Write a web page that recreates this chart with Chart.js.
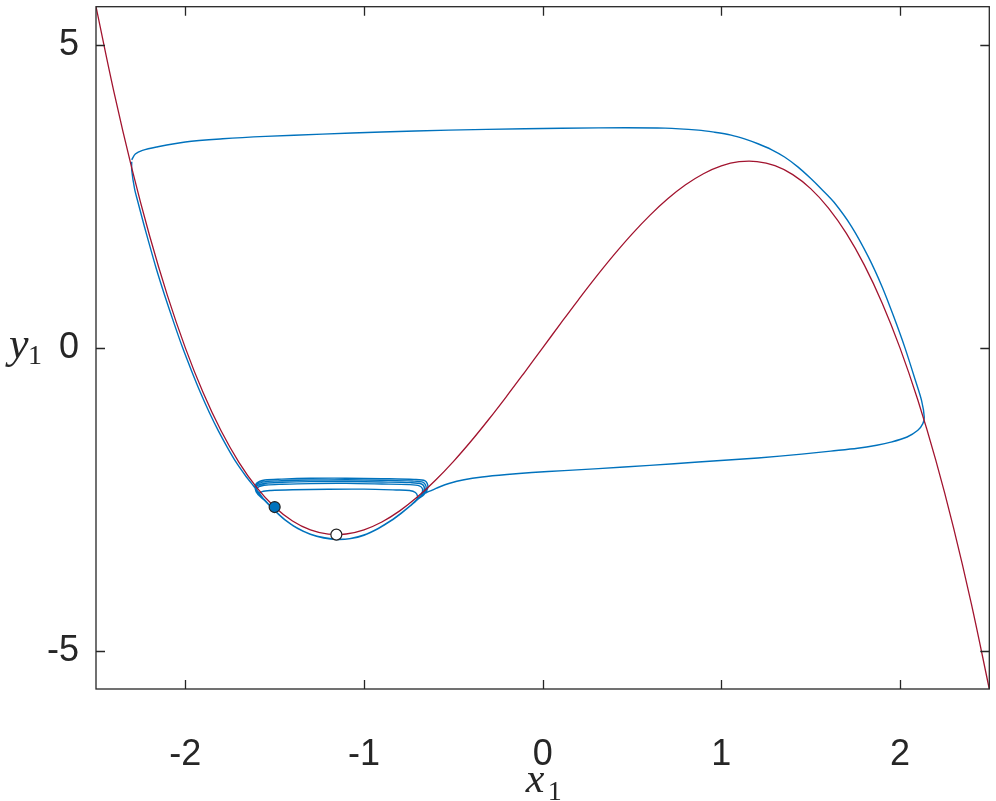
<!DOCTYPE html>
<html>
<head>
<meta charset="utf-8">
<script src="https://cdn.jsdelivr.net/npm/chart.js@4/dist/chart.umd.min.js"></script>
<style>
  html, body { margin: 0; padding: 0; background: #ffffff; }
  canvas { display: block; }
</style>
</head>
<body>
<canvas id="c" width="996" height="801"></canvas>
<script>
// ---------------- data ----------------
const xTicks = [-2, -1, 0, 1, 2];
const xTickLabels = ['-2', '-1', '0', '1', '2'];
const yTicks = [-5, 0, 5];
const yTickLabels = ['-5', '0', '5'];
const xLimits = [-2.5, 2.5];
const yLimits = [-5.625, 5.625];
const xAxisLabel = ['x', '1'];
const yAxisLabel = ['y', '1'];

// red curve (nullcline)
const nullclineX = [-2.5,-2.4,-2.3,-2.2,-2.1,-2.0,-1.9,-1.8,-1.7,-1.6,-1.5,-1.4,-1.3,-1.2,-1.1,-1.0,-0.9,-0.8,-0.7,-0.6,-0.5,-0.4,-0.3,-0.2,-0.1,0,
  0.1,0.2,0.3,0.4,0.5,0.6,0.7,0.8,0.9,1.0,1.1,1.2,1.3,1.4,1.5,1.6,1.7,1.8,1.9,2.0,2.1,2.2,2.3,2.4,2.5];
const nullclineY = [5.625,4.224,2.967,1.848,0.861,0,-0.741,-1.368,-1.887,-2.304,-2.625,-2.856,-3.003,-3.072,-3.069,-3.0,-2.871,-2.688,-2.457,-2.184,-1.875,-1.536,-1.173,-0.792,-0.399,0,
  0.399,0.792,1.173,1.536,1.875,2.184,2.457,2.688,2.871,3.0,3.069,3.072,3.003,2.856,2.625,2.304,1.887,1.368,0.741,0,-0.861,-1.848,-2.967,-4.224,-5.625];

// blue trajectory, in the order it is traced
const trajDescent = [[-2.300,3.07],[-2.300,2.93],[-2.284,2.62],[-2.265,2.40],[-2.240,2.12],[-2.215,1.85],[-2.165,1.33],[-2.115,0.86],[-2.065,0.42],
  [-2.015,0.00],[-1.965,-0.38],[-1.915,-0.74],[-1.865,-1.07],[-1.815,-1.37],[-1.765,-1.64],[-1.715,-1.89],[-1.665,-2.10],[-1.620,-2.27],[-1.590,-2.38]];
const lowerArc1 = [[-1.560,-2.50],[-1.500,-2.68],[-1.440,-2.84],[-1.370,-2.98],[-1.300,-3.07],[-1.220,-3.13],[-1.150,-3.155],[-1.080,-3.145],[-1.000,-3.085],[-0.920,-2.975],[-0.850,-2.850],[-0.790,-2.720],[-0.740,-2.600],[-0.705,-2.500]];
const loop1 = [[-0.700,-2.45],[-0.712,-2.385],[-0.745,-2.352],[-0.820,-2.343],[-1.000,-2.330],[-1.200,-2.331],[-1.400,-2.340],[-1.520,-2.352],[-1.570,-2.37],[-1.590,-2.42]];
const lowerArc2 = [[-1.562,-2.50],[-1.505,-2.67],[-1.445,-2.83],[-1.375,-2.97],[-1.300,-3.075],[-1.225,-3.135],[-1.150,-3.16],[-1.075,-3.145],[-1.000,-3.09],[-0.920,-2.98],[-0.850,-2.855],[-0.790,-2.725],[-0.740,-2.605],[-0.700,-2.50]];
const loop2 = [[-0.678,-2.42],[-0.672,-2.33],[-0.690,-2.275],[-0.750,-2.255],[-0.900,-2.245],[-1.100,-2.235],[-1.300,-2.238],[-1.460,-2.250],[-1.545,-2.262],[-1.588,-2.29],[-1.600,-2.35],[-1.588,-2.42]];
const lowerArc3 = [[-1.558,-2.50],[-1.502,-2.675],[-1.442,-2.835],[-1.372,-2.975],[-1.300,-3.072],[-1.222,-3.133],[-1.150,-3.158],[-1.078,-3.146],[-1.000,-3.088],[-0.920,-2.978],[-0.850,-2.852],[-0.790,-2.722],[-0.740,-2.602],[-0.702,-2.50]];
const loop3 = [[-0.672,-2.42],[-0.662,-2.31],[-0.678,-2.245],[-0.740,-2.223],[-0.900,-2.212],[-1.100,-2.203],[-1.300,-2.206],[-1.460,-2.218],[-1.550,-2.232],[-1.595,-2.27],[-1.605,-2.34],[-1.590,-2.42]];
const lowerArc4 = [[-1.560,-2.50],[-1.504,-2.672],[-1.444,-2.832],[-1.374,-2.972],[-1.300,-3.074],[-1.224,-3.134],[-1.150,-3.159],[-1.076,-3.146],[-1.000,-3.089],[-0.920,-2.979],[-0.850,-2.854],[-0.790,-2.724],[-0.740,-2.604],[-0.701,-2.50]];
const loop4 = [[-0.668,-2.42],[-0.652,-2.30],[-0.668,-2.218],[-0.730,-2.196],[-0.900,-2.184],[-1.100,-2.176],[-1.300,-2.179],[-1.460,-2.191],[-1.552,-2.205],[-1.598,-2.25],[-1.607,-2.33],[-1.592,-2.42]];
const lowerArc5 = [[-1.561,-2.50],[-1.503,-2.674],[-1.443,-2.834],[-1.373,-2.974],[-1.300,-3.073],[-1.223,-3.134],[-1.150,-3.157],[-1.077,-3.145],[-1.000,-3.087],[-0.920,-2.977],[-0.850,-2.853],[-0.790,-2.723],[-0.740,-2.603],[-0.702,-2.50]];
const loop5 = [[-0.664,-2.42],[-0.642,-2.29],[-0.658,-2.192],[-0.720,-2.169],[-0.900,-2.157],[-1.100,-2.149],[-1.300,-2.151],[-1.460,-2.164],[-1.555,-2.180],[-1.600,-2.23],[-1.609,-2.32],[-1.593,-2.42]];
const lowerArc6 = [[-1.559,-2.50],[-1.501,-2.678],[-1.441,-2.838],[-1.371,-2.978],[-1.300,-3.071],[-1.221,-3.131],[-1.150,-3.156],[-1.079,-3.145],[-1.000,-3.086],[-0.920,-2.976],[-0.850,-2.851],[-0.790,-2.721],[-0.740,-2.601],[-0.705,-2.50]];
const trajBottomJump = [[-0.680,-2.43],[-0.650,-2.385],[-0.618,-2.347],[-0.575,-2.29],[-0.525,-2.237],[-0.440,-2.175],[-0.339,-2.129],[-0.200,-2.088],[-0.060,-2.056],[0.120,-2.024],
  [0.3125,-1.991],[0.600,-1.937],[0.871,-1.883],[1.205,-1.815],[1.450,-1.752],[1.613,-1.702],[1.763,-1.655],[1.870,-1.605],[1.949,-1.555],[2.040,-1.470],[2.100,-1.360],[2.128,-1.250],[2.136,-1.145]];
const trajRightBranch = [[2.121,-0.871],[2.087,-0.543],[2.028,0.000],[1.967,0.500],[1.901,1.000],[1.823,1.500],[1.729,2.000],[1.631,2.400],[1.560,2.620],[1.498,2.800],[1.430,2.980],[1.354,3.147],[1.280,3.270],[1.205,3.365],[1.130,3.445],[1.055,3.508]];
const trajTopJump = [[0.960,3.556],[0.871,3.590],[0.685,3.623],[0.3125,3.627],[-0.100,3.612],[-0.525,3.590],[-0.900,3.558],[-1.233,3.524],[-1.550,3.487],[-1.791,3.447],[-2.000,3.395],[-2.161,3.311],[-2.240,3.255],[-2.280,3.195],[-2.300,3.10]];

// markers
const filledPoint = [-1.5, -2.625];
const openPoint = [-1.1547, -3.0792];

// ---------------- build ----------------
const toXY = a => a.map(p => ({x: p[0], y: p[1]}));
const trajectory = [].concat(trajDescent, lowerArc1, loop1, lowerArc2, loop2, lowerArc3, loop3, lowerArc4, loop4,
  lowerArc5, loop5, lowerArc6, trajBottomJump, trajRightBranch, trajTopJump);
const nullcline = nullclineX.map((x, i) => ({x: x, y: nullclineY[i]}));

const FRAME = '#262626';
const TICKFONT = {family: '"Liberation Sans", Arial, Helvetica, sans-serif', size: 36};

const framePlugin = {
  id: 'frame',
  afterDraw(chart) {
    const {ctx, chartArea: a, scales} = chart;
    ctx.save();
    ctx.strokeStyle = FRAME;
    ctx.lineWidth = 1.3;
    ctx.strokeRect(a.left, a.top, a.right - a.left, a.bottom - a.top);
    const L = 9;
    ctx.beginPath();
    xTicks.forEach(v => {
      const px = Math.round(scales.x.getPixelForValue(v)) + 0.5;
      ctx.moveTo(px, a.bottom); ctx.lineTo(px, a.bottom - L);
      ctx.moveTo(px, a.top); ctx.lineTo(px, a.top + L);
    });
    yTicks.forEach(v => {
      const py = Math.round(scales.y.getPixelForValue(v)) + 0.5;
      ctx.moveTo(a.left, py); ctx.lineTo(a.left + L, py);
      ctx.moveTo(a.right, py); ctx.lineTo(a.right - L, py);
    });
    ctx.stroke();

    // axis labels (italic variable with subscript)
    ctx.fillStyle = FRAME;
    ctx.textBaseline = 'alphabetic';
    ctx.textAlign = 'left';
    const cx = (a.left + a.right) / 2;
    ctx.font = 'italic 42px "Liberation Serif", "DejaVu Serif", serif';
    ctx.fillText(xAxisLabel[0], cx - 17, 792);
    ctx.font = '28px "Liberation Serif", "DejaVu Serif", serif';
    ctx.fillText(xAxisLabel[1], cx + 5, 800);
    const cy = scales.y.getPixelForValue(0);
    ctx.font = 'italic 44px "Liberation Serif", "DejaVu Serif", serif';
    ctx.fillText(yAxisLabel[0], 9, cy + 10);
    ctx.font = '28px "Liberation Serif", "DejaVu Serif", serif';
    ctx.fillText(yAxisLabel[1], 28, cy + 16);
    ctx.restore();
  }
};

new Chart(document.getElementById('c'), {
  type: 'scatter',
  data: {
    datasets: [
      {
        label: 'fixed point',
        data: toXY([openPoint]),
        showLine: false,
        pointRadius: 5.5,
        pointBackgroundColor: '#ffffff',
        pointBorderColor: '#222222',
        pointBorderWidth: 1.2,
        order: 0
      },
      {
        label: 'state',
        data: toXY([filledPoint]),
        showLine: false,
        pointRadius: 5.5,
        pointBackgroundColor: '#0072BD',
        pointBorderColor: '#222222',
        pointBorderWidth: 1.2,
        order: 0
      },
      {
        label: 'nullcline',
        data: nullcline,
        showLine: true,
        borderColor: '#A2142F',
        borderWidth: 1.3,
        pointRadius: 0,
        tension: 0.4,
        fill: false,
        order: 1
      },
      {
        label: 'trajectory',
        data: toXY(trajectory),
        showLine: true,
        borderColor: '#0072BD',
        borderWidth: 1.4,
        pointRadius: 0,
        tension: 0.3,
        fill: false,
        order: 2
      }
    ]
  },
  options: {
    responsive: false,
    animation: false,
    devicePixelRatio: 1,
    layout: {padding: {top: 3, right: 4, left: 0, bottom: 0}},
    plugins: {legend: {display: false}, tooltip: {enabled: false}},
    scales: {
      x: {
        type: 'linear',
        min: xLimits[0], max: xLimits[1],
        grid: {display: false, drawTicks: false},
        border: {display: false},
        afterBuildTicks: s => { s.ticks = xTicks.map(v => ({value: v})); },
        afterFit: s => { s.height = 112; s.paddingLeft = 0; s.paddingRight = 0; },
        ticks: {
          font: TICKFONT, color: FRAME, padding: 44, maxRotation: 0, autoSkip: false,
          callback: (v) => xTickLabels[xTicks.indexOf(v)]
        }
      },
      y: {
        type: 'linear',
        min: yLimits[0], max: yLimits[1],
        grid: {display: false, drawTicks: false},
        border: {display: false},
        afterBuildTicks: s => { s.ticks = yTicks.map(v => ({value: v})); },
        afterFit: s => { s.width = 96; s.paddingTop = 0; s.paddingBottom = 0; },
        ticks: {
          font: TICKFONT, color: FRAME, padding: 17, autoSkip: false,
          callback: (v) => yTickLabels[yTicks.indexOf(v)]
        }
      }
    }
  },
  plugins: [framePlugin]
});
</script>
</body>
</html>
